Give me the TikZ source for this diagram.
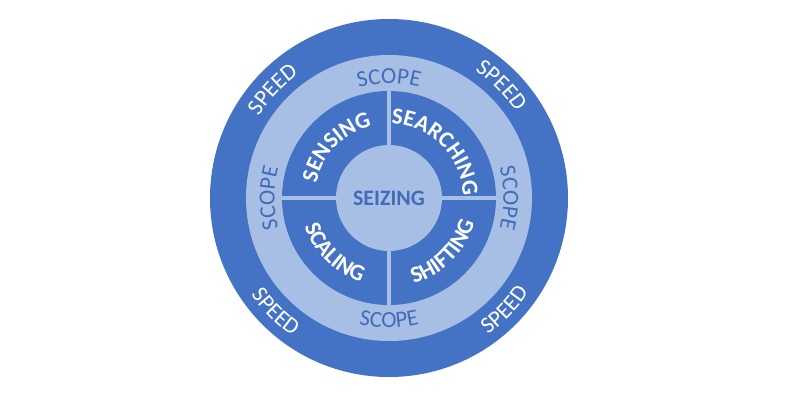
\documentclass[tikz,border=0pt]{standalone}
\usepackage{fontspec}
\setmainfont{Carlito}
\usetikzlibrary{decorations.text}

\definecolor{ringblue}{RGB}{68,114,196}
\definecolor{paleblue}{RGB}{168,191,229}
\definecolor{scopeblue}{RGB}{66,108,186}

\newcommand\ringfont{\fontsize{23}{28}\selectfont}
\newcommand\quadfont{\fontsize{23}{27}\selectfont\bfseries}

\begin{document}
\begin{tikzpicture}[x=1pt, y=1pt,
    speedtext/.style={decorate, decoration={text along path, text align=center,
        text color=white, text={|\ringfont|#1}}},
    scopetext/.style={decorate, decoration={text along path, text align=center,
        text color=scopeblue, text={|\ringfont|#1}}},
    quadtext/.style={decorate, decoration={text along path, text align=center,
        text color=white, text={|\quadfont|#1}}}]
    \useasboundingbox (-389,-202) rectangle (411,198);
    % Rings, from the outside in
    \fill[ringblue] (0,0) circle (179);
    \fill[paleblue] (0,0) circle (143);
    \fill[ringblue] (0,0) circle (107);
    % Gaps between the four quadrants
    \draw[paleblue, line width=4] (-107,0) -- (107,0);
    \draw[paleblue, line width=4] (0,-107) -- (0,107);
    \fill[paleblue] (0,0) circle (53);
    \node[font=\fontsize{22}{26}\selectfont\bfseries, text=scopeblue] (seizing) at (0,0) {SEIZING};
    % Outer ring: SPEED (upper ones clockwise, lower ones anticlockwise)
    \def\Rtop{153.5};
    \def\Rbot{168.5};
    \path[speedtext=SPEED] ({137+50}:\Rtop) arc[radius=\Rtop, start angle=137+50, end angle=137-50];
    \path[speedtext=SPEED] ({45+50}:\Rtop) arc[radius=\Rtop, start angle=45+50, end angle=45-50];
    \path[speedtext=SPEED] ({225-50}:\Rbot) arc[radius=\Rbot, start angle=225-50, end angle=225+50];
    \path[speedtext=SPEED] ({316-50}:\Rbot) arc[radius=\Rbot, start angle=316-50, end angle=316+50];
    % Middle ring: SCOPE
    \def\Rin{114.5};
    \def\Rout{129.5};
    \path[scopetext=SCOPE] ({90+50}:\Rin) arc[radius=\Rin, start angle=90+50, end angle=90-50];
    \path[scopetext=SCOPE] ({0+50}:\Rin) arc[radius=\Rin, start angle=0+50, end angle=0-50];
    \path[scopetext=SCOPE] ({180+50}:\Rin) arc[radius=\Rin, start angle=180+50, end angle=180-50];
    \path[scopetext=SCOPE] ({270-50}:\Rout) arc[radius=\Rout, start angle=270-50, end angle=270+50];
    % Quadrants
    \def\Qtop{74};
    \def\Qbot{89};
    \path[quadtext=SENSING] ({136+70}:\Qtop) arc[radius=\Qtop, start angle=136+70, end angle=136-70];
    \path[quadtext=SEARCHING] ({45+70}:\Qtop) arc[radius=\Qtop, start angle=45+70, end angle=45-70];
    \path[quadtext=SCALING] ({225-70}:\Qbot) arc[radius=\Qbot, start angle=225-70, end angle=225+70];
    \path[quadtext=SHIFTING] ({315-70}:\Qbot) arc[radius=\Qbot, start angle=315-70, end angle=315+70];
\end{tikzpicture}
\end{document}
